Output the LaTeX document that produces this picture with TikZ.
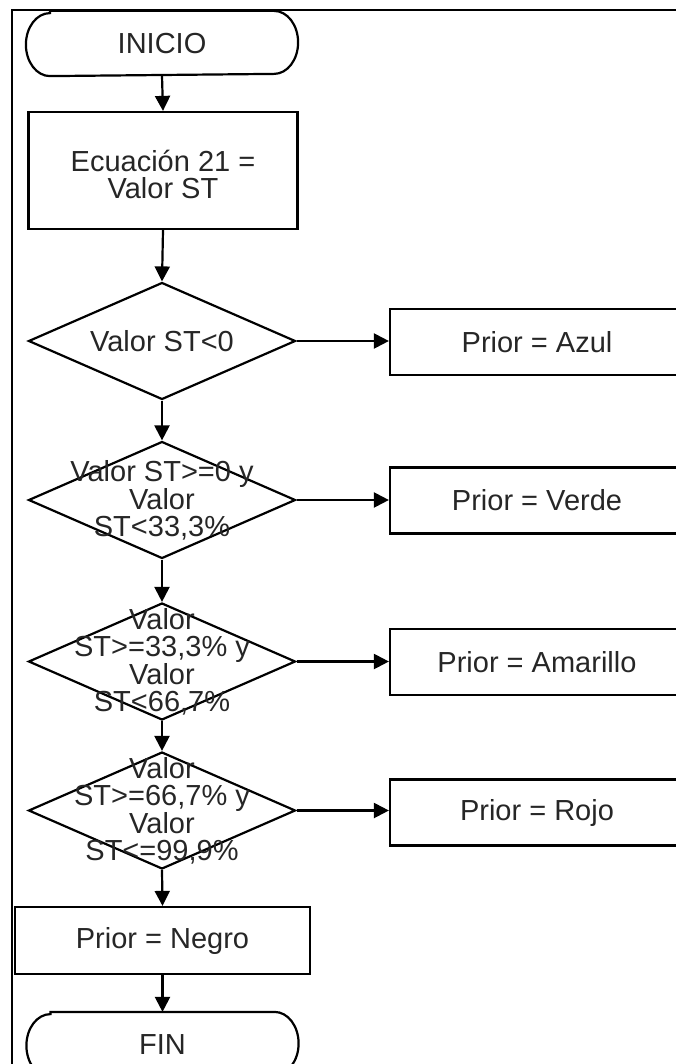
\documentclass[tikz,border=0pt]{standalone}
\usepackage{fontspec}
\setmainfont{Liberation Sans}
\usetikzlibrary{shapes.geometric,arrows.meta}
\begin{document}
\begin{tikzpicture}[x=1pt,y=1pt,
  line width=2.2pt,
  txt/.style={font=\fontsize{29}{27}\selectfont, text=black!85, align=center, inner sep=0pt},
  procbox/.style={draw, rectangle, txt},
  sidebox/.style={procbox, minimum width=294pt, minimum height=66pt},
  decision/.style={draw, diamond, inner sep=0pt, minimum width=267pt, minimum height=117pt},
  termshape/.style={rectangle, minimum width=270pt, minimum height=63pt, txt},
  arr/.style={-{Triangle[length=15pt,width=15pt]}, line width=2.2pt},
]
\useasboundingbox (0,0) rectangle (676,-1064);
\clip (0,0) rectangle (676,-1064);

% page frame
\draw[line width=2.8pt] (676,-10) -- (12,-10) -- (12,-1064);

% start terminator
\node[termshape] (ini) at (162,-43.5) {INICIO};
\draw ([xshift=24pt]ini.north west) -- ([xshift=-24pt]ini.north east)
  arc[start angle=90, end angle=-90, x radius=24, y radius=31.5]
  -- ([xshift=24pt]ini.south west)
  arc[start angle=270, end angle=90, x radius=24, y radius=31.5] -- cycle;

% computation
\node[procbox, minimum width=269pt, minimum height=117pt] (calc) at (163,-170.5) {};
\node[txt] (calct) at ([yshift=-4pt]calc.center) {Ecuación 21 =\\Valor ST};

% decisions
\node[decision] (d1) at (162,-341) {};
\node[txt] (d1t) at (d1.center) {Valor ST<0};
\node[decision] (d2) at (162,-500) {};
\node[txt] (d2t) at (d2.center) {Valor ST>=0 y\\Valor\\ST<33,3\%};
\node[decision] (d3) at (162,-661.5) {};
\node[txt] (d3t) at (d3.center) {Valor\\ST>=33,3\% y\\Valor\\ST<66,7\%};
\node[decision] (d4) at (162,-810.5) {};
\node[txt] (d4t) at (d4.center) {Valor\\ST>=66,7\% y\\Valor\\ST<=99,9\%};

% outcomes
\node[sidebox] (azul) at (537,-342) {Prior = Azul};
\node[sidebox] (verde) at (537,-500.5) {Prior = Verde};
\node[sidebox] (amarillo) at (537,-662) {Prior = Amarillo};
\node[sidebox] (rojo) at (537,-812.5) {Prior = Rojo};
\node[procbox, minimum width=295pt, minimum height=67pt] (negro) at (162.5,-940.5) {Prior = Negro};

% end terminator
\node[termshape] (fin) at (162.5,-1044.5) {FIN};
\draw ([xshift=24pt]fin.north west) -- ([xshift=-24pt]fin.north east)
  arc[start angle=90, end angle=-90, x radius=24, y radius=31.5]
  -- ([xshift=24pt]fin.south west)
  arc[start angle=270, end angle=90, x radius=24, y radius=31.5] -- cycle;

% main flow
\draw[arr] (ini.south) -- (calc.north);
\draw[arr] (calc.south) -- (d1.north);
\draw[arr] (d1.south) -- (d2.north);
\draw[arr] (d2.south) -- (d3.north);
\draw[arr] (d3.south) -- (d4.north);
\draw[arr] (d4.south) -- (negro.north);
\draw[arr] (negro.south) -- (fin.north);

% branches
\draw[arr] (d1.east) -- (azul.west |- d1.east);
\draw[arr] (d2.east) -- (verde.west |- d2.east);
\draw[arr] (d3.east) -- (amarillo.west |- d3.east);
\draw[arr] (d4.east) -- (rojo.west |- d4.east);
\end{tikzpicture}
\end{document}
